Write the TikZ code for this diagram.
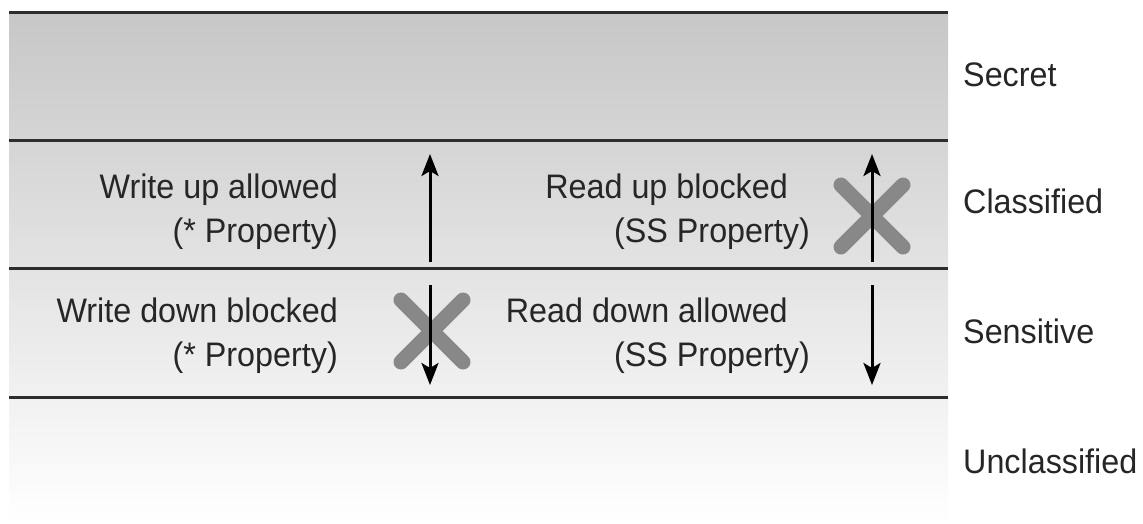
\documentclass[tikz,border=0pt]{standalone}
\usepackage{fontspec}
\setmainfont{Liberation Sans}[FakeStretch=0.95]
\usetikzlibrary{arrows.meta}
\definecolor{crossgray}{RGB}{136,136,136}
\definecolor{rulegray}{RGB}{45,45,45}

\begin{document}
\begin{tikzpicture}[x=1pt,y=-1pt,>={Stealth[length=22pt,width=17pt,inset=5pt]},
    every node/.style={inner sep=0pt,text=black!85,font=\fontsize{34}{44}\selectfont},
    divider/.style={draw=rulegray,line width=3pt},
    flow/.style={->,line width=3pt},
    blockx/.style={draw=crossgray,line width=15pt,line cap=round},
    ruletext/.style={anchor=north east,align=right},
    tiername/.style={anchor=base west}]
    \useasboundingbox (0,0) rectangle (1143,523);

    % levels
    \shade[top color=black!22,bottom color=white] (9,12) rectangle (948,523);
    \foreach \y in {12,140,268,397}
        \draw[divider] (9,\y) -- (948,\y);

    \node[tiername] (secret) at (963,86) {Secret};
    \node[tiername] (classified) at (963,213) {Classified};
    \node[tiername] (sensitive) at (963,343) {Sensitive};
    \node[tiername] (unclassified) at (963,473) {Unclassified};

    % rules
    \node[ruletext] (wup) at (338,174) {Write up allowed\\(* Property)};
    \node[ruletext] (rup) at (810,174) {Read up blocked\hspace*{22pt}\\(SS Property)};
    \node[ruletext] (wdown) at (338,298) {Write down blocked\\(* Property)};
    \node[ruletext] (rdown) at (810,298) {Read down allowed\hspace*{22pt}\\(SS Property)};

    \coordinate (wu0) at (430,262);
    \coordinate (wu1) at (430,154);
    \coordinate (ru0) at (872,262);
    \coordinate (ru1) at (872,154);
    \coordinate (wd0) at (430,285);
    \coordinate (wd1) at (430,385);
    \coordinate (rd0) at (872,285);
    \coordinate (rd1) at (872,385);
    \coordinate (xr) at (872,216);
    \coordinate (xw) at (432,331);

    % blocked
    \draw[blockx] (xr) ++(-31,-31) -- ++(62,62) (xr) ++(-31,31) -- ++(62,-62);
    \draw[blockx] (xw) ++(-31,-31) -- ++(62,62) (xw) ++(-31,31) -- ++(62,-62);

    \path[flow]
    (wu0) edge (wu1)
    (ru0) edge (ru1)
    (wd0) edge (wd1)
    (rd0) edge (rd1)
    ;
\end{tikzpicture}
\end{document}
